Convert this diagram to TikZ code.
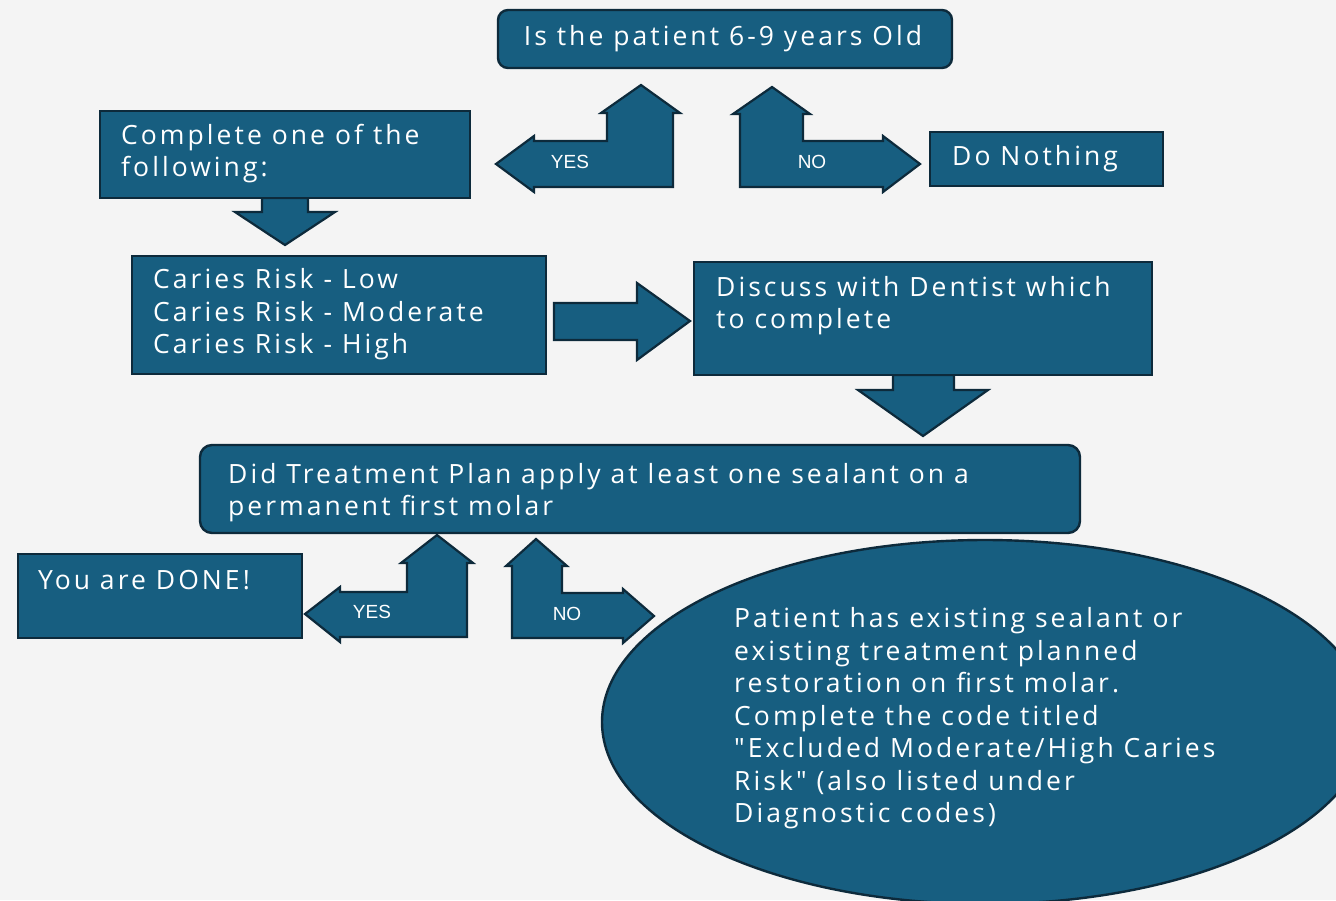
\documentclass[tikz,border=0pt]{standalone}
\usepackage{fontspec}
\newfontfamily\boxfont{Open Sans}[LetterSpace=11.5]
\newfontfamily\tagfont{Liberation Sans}
\usepackage{tikz}
\usetikzlibrary{calc,shapes.geometric}

\definecolor{paper}{HTML}{F4F4F4}
\definecolor{panelfill}{HTML}{175E80}
\definecolor{paneledge}{HTML}{0D2A3B}

\tikzset{
	panel/.style={draw=paneledge, fill=panelfill, line width=2.4pt, inner sep=0pt},
	blockarrow/.style={draw=paneledge, fill=panelfill, line width=2.2pt, line join=miter},
	lbl/.style={text=white, font=\boxfont\fontsize{26.5}{32.5}\selectfont, align=left, inner sep=0pt},
	tag/.style={text=white, font=\tagfont\fontsize{19}{21}\selectfont, inner sep=0pt}
}

\begin{document}
\begin{tikzpicture}[x=1pt, y=-1pt]
		\useasboundingbox (0,0) rectangle (1336,900);
		\fill[paper] (0,0) rectangle (1336,900);
		\clip (0,0) rectangle (1336,900);

		% arrows between the boxes
		\draw[blockarrow] (262,198) -- (308,198) -- (308,212) -- (335,212) -- (285,245) -- (235,212) -- (262,212) -- cycle;
		\draw[blockarrow] (554,303) -- (637,303) -- (637,283) -- (690,321) -- (637,360) -- (637,340) -- (554,340) -- cycle;
		\draw[blockarrow] (893,375) -- (954,375) -- (954,390) -- (988,390) -- (923,436) -- (858,390) -- (893,390) -- cycle;

		% yes / no turns
		\draw[blockarrow] (496,164) -- (534,136) -- (534,141) -- (607,141) -- (607,113) -- (601,113) -- (641,85) -- (680,113) -- (673,113) -- (673,187) -- (534,187) -- (534,192) -- cycle;
		\draw[blockarrow] (740,187) -- (740,114) -- (733,114) -- (772,87) -- (810,114) -- (803,114) -- (803,141) -- (883,141) -- (883,136) -- (920,164) -- (883,192) -- (883,187) -- cycle;
		\draw[blockarrow] (305,614) -- (340,587) -- (340,592) -- (407,592) -- (407,563) -- (401,563) -- (437,535) -- (473,563) -- (467,563) -- (467,637) -- (340,637) -- (340,642) -- cycle;
		\draw[blockarrow] (512,638) -- (512,566) -- (506,566) -- (536,539) -- (567,566) -- (562,566) -- (562,593) -- (623,593) -- (623,589) -- (654,616) -- (623,643) -- (623,638) -- cycle;

		\node[tag] (yesup) at (570,162) {YES};
		\node[tag] (noup) at (812,162) {NO};
		\node[tag] (yeslow) at (372,612) {YES};
		\node[tag] (nolow) at (567,614) {NO};

		% boxes
		\node[panel, rounded corners=10pt, minimum width=454, minimum height=58] (age) at (725,39) {};
		\node[panel, minimum width=370, minimum height=87] (todo) at (285,154.5) {};
		\node[panel, minimum width=233, minimum height=54] (nothing) at (1046.5,159) {};
		\node[panel, minimum width=414, minimum height=118] (risk) at (339,315) {};
		\node[panel, minimum width=458, minimum height=113] (discuss) at (923,318.5) {};
		\node[panel, rounded corners=12pt, minimum width=880, minimum height=88] (plan) at (640,489) {};
		\node[panel, minimum width=284, minimum height=84] (done) at (160,596) {};
		\node[panel, ellipse, minimum width=766, minimum height=364] (excluded) at (985,722) {};

		% texts
		\node[lbl] (agetext) at (723,38.5) {Is the patient 6-9 years Old};
		\node[lbl, anchor=west] (todotext) at (121,153.5) {Complete one of the\\following:};
		\node[lbl, anchor=west] (nothingtext) at (952,158.5) {Do Nothing};
		\node[lbl, anchor=west] (risktext) at (153,314.5) {Caries Risk - Low\\Caries Risk - Moderate\\Caries Risk - High};
		\node[lbl, anchor=west] (discusstext) at (716,305.5) {Discuss with Dentist which\\to complete};
		\node[lbl, anchor=west] (plantext) at (228,492.5) {Did Treatment Plan apply at least one sealant on a\\permanent first molar};
		\node[lbl, anchor=west] (donetext) at (38,580.5) {You are DONE!};
		\node[lbl, anchor=west] (excludedtext) at (734,718.5) {Patient has existing sealant or\\existing treatment planned\\restoration on first molar.\\Complete the code titled\\"Excluded Moderate/High Caries\\Risk" (also listed under\\Diagnostic codes)};
	\end{tikzpicture}
\end{document}
